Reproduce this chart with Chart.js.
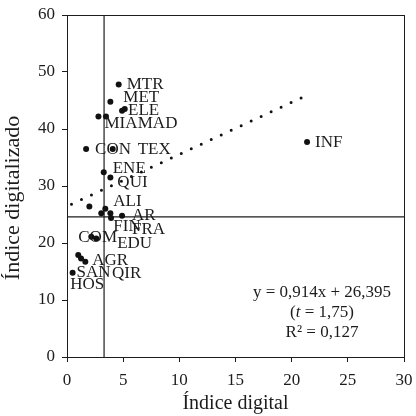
<!DOCTYPE html>
<html>
<head>
<meta charset="utf-8">
<script src="https://cdn.jsdelivr.net/npm/chart.js@4/dist/chart.umd.min.js"></script>
<style>
  body { margin: 0; background: #fff; }
</style>
</head>
<body>
<canvas id="myChart" width="416" height="416"></canvas>
<script>
// sectors: digital index (x) vs digitalized index (y)
var sectors = ['MTR', 'MET', 'ELE', 'MAD', 'MIA', '', 'CON', 'TEX', 'ENE', 'QUI', '',
  'ALI', '', 'FIN', 'FRA', 'AR', 'COM', 'EDU', 'AGR', 'SAN', 'QIR', 'HOS', 'INF'];
var indiceDigital = [4.6, 3.86, 4.9, 5.14, 2.8, 3.47, 1.7, 4.07, 3.27, 3.86, 1.99,
  3.41, 3.05, 3.86, 3.92, 4.9, 2.16, 2.6, 1.63, 0.5, 1.25, 1.0, 21.37];
var indiceDigitalizado = [47.8, 44.8, 43.2, 43.5, 42.2, 42.2, 36.5, 36.5, 32.4, 31.5, 26.4,
  26.0, 25.2, 25.2, 24.4, 24.8, 21.1, 20.8, 16.7, 14.8, 17.3, 17.9, 37.7];

// regression line ends
var trendX = [0.4, 21.0];
var trendY = [26.8, 45.6];

// mean lines
var meanX = 3.3;
var meanY = 24.6;

var xTicks = [0, 5, 10, 15, 20, 25, 30];
var yTicks = [0, 10, 20, 30, 40, 50, 60];

var xTitle = 'Índice digital';
var yTitle = 'Índice digitalizado';
var eqLines = ['y = 0,914x + 26,395', '(t = 1,75)', 'R\u00b2 = 0,127'];

var serif = 'Liberation Serif';
var ink = '#1c1c1c';

// where each name sits relative to its dot, in px
var labelNudge = {
  MTR: [8, 0], MET: [13, -4], ELE: [6, 0], MAD: [13, 14], MIA: [6, 7],
  CON: [9, 1], TEX: [25, 1], ENE: [9, -4], QUI: [7, 5], ALI: [8, -7],
  FIN: [3, 13], FRA: [21, 12], AR: [10, 0], COM: [-13, 1], EDU: [21, 5],
  AGR: [7, -1], SAN: [4, 0], QIR: [31, 15], HOS: [-8, 30], INF: [8, 0]
};

var points = indiceDigital.map(function (x, i) { return { x: x, y: indiceDigitalizado[i] }; });
var trend = trendX.map(function (x, i) { return { x: x, y: trendY[i] }; });

var extras = {
  id: 'extras',
  afterDatasetsDraw: function (chart) {
    var c = chart.ctx, a = chart.chartArea;
    c.save();
    // frame
    c.strokeStyle = ink;
    c.lineWidth = 1;
    c.strokeRect(a.left + 0.5, a.top + 0.5, a.right - a.left, a.bottom - a.top);

    // y title, sits a bit below the axis middle in the original
    c.save();
    c.translate(13, (a.top + a.bottom) / 2 + 12);
    c.rotate(-Math.PI / 2);
    c.fillStyle = ink;
    c.font = '22px "' + serif + '"';
    c.textAlign = 'center';
    c.textBaseline = 'middle';
    c.fillText(yTitle, 0, 0);
    c.restore();

    // sector names
    var meta = chart.getDatasetMeta(0);
    c.fillStyle = ink;
    c.font = '17px "' + serif + '"';
    c.textBaseline = 'middle';
    c.textAlign = 'left';
    meta.data.forEach(function (el, i) {
      var name = sectors[i];
      if (!name) return;
      var n = labelNudge[name] || [8, 0];
      c.fillText(name, el.x + n[0], el.y + n[1]);
    });

    // regression text
    var cx = a.right - 82, y0 = a.bottom - 64;
    var f = '17px "' + serif + '"';
    c.textAlign = 'center';
    c.font = f;
    c.fillText(eqLines[0], cx, y0);
    // second line with italic t
    var parts = [['(', false], ['t', true], [' = 1,75)', false]];
    var w = 0;
    parts.forEach(function (p) {
      c.font = (p[1] ? 'italic ' : '') + f;
      w += c.measureText(p[0]).width;
    });
    var x = cx - w / 2;
    c.textAlign = 'left';
    parts.forEach(function (p) {
      c.font = (p[1] ? 'italic ' : '') + f;
      c.fillText(p[0], x, y0 + 20);
      x += c.measureText(p[0]).width;
    });
    c.textAlign = 'center';
    c.font = f;
    c.fillText(eqLines[2], cx, y0 + 40);
    c.restore();
  }
};

var ctx = document.getElementById('myChart').getContext('2d');
var chart = new Chart(ctx, {
  type: 'scatter',
  data: {
    datasets: [{
      data: points,
      pointRadius: 3,
      pointBackgroundColor: '#111',
      pointBorderWidth: 0
    }, {
      type: 'line',
      data: trend,
      borderColor: '#111',
      borderWidth: 3,
      borderDash: [0, 11],
      borderCapStyle: 'round',
      pointRadius: 0,
      fill: false
    }, {
      type: 'line',
      data: [{ x: meanX, y: yTicks[0] }, { x: meanX, y: yTicks[yTicks.length - 1] }],
      borderColor: ink,
      borderWidth: 1.2,
      pointRadius: 0
    }, {
      type: 'line',
      data: [{ x: xTicks[0], y: meanY }, { x: xTicks[xTicks.length - 1], y: meanY }],
      borderColor: ink,
      borderWidth: 1.2,
      pointRadius: 0
    }]
  },
  options: {
    responsive: false,
    animation: false,
    layout: { padding: { top: 15, right: 12, left: 0, bottom: 0 } },
    plugins: { legend: { display: false }, tooltip: { enabled: false } },
    scales: {
      x: {
        type: 'linear',
        min: xTicks[0],
        max: xTicks[xTicks.length - 1],
        afterBuildTicks: function (s) { s.ticks = xTicks.map(function (v) { return { value: v }; }); },
        afterFit: function (s) { s.height = 59; s.paddingLeft = 0; s.paddingRight = 0; },
        grid: { drawOnChartArea: false, drawTicks: true, tickLength: 5, color: ink },
        border: { color: ink, width: 1 },
        ticks: { color: ink, padding: 8, font: { family: serif, size: 17 } },
        title: { display: true, text: xTitle, color: ink, padding: { top: -3, bottom: 0 }, font: { family: serif, size: 20 } }
      },
      y: {
        type: 'linear',
        min: yTicks[0],
        max: yTicks[yTicks.length - 1],
        afterBuildTicks: function (s) { s.ticks = yTicks.map(function (v) { return { value: v }; }); },
        afterFit: function (s) { s.width = 67; s.paddingTop = 0; s.paddingBottom = 0; },
        grid: { drawOnChartArea: false, drawTicks: true, tickLength: 5, color: ink },
        border: { color: ink, width: 1 },
        ticks: { color: ink, padding: 7, font: { family: serif, size: 17 } },
        title: { display: false }
      }
    }
  },
  plugins: [extras]
});
</script>
</body>
</html>
